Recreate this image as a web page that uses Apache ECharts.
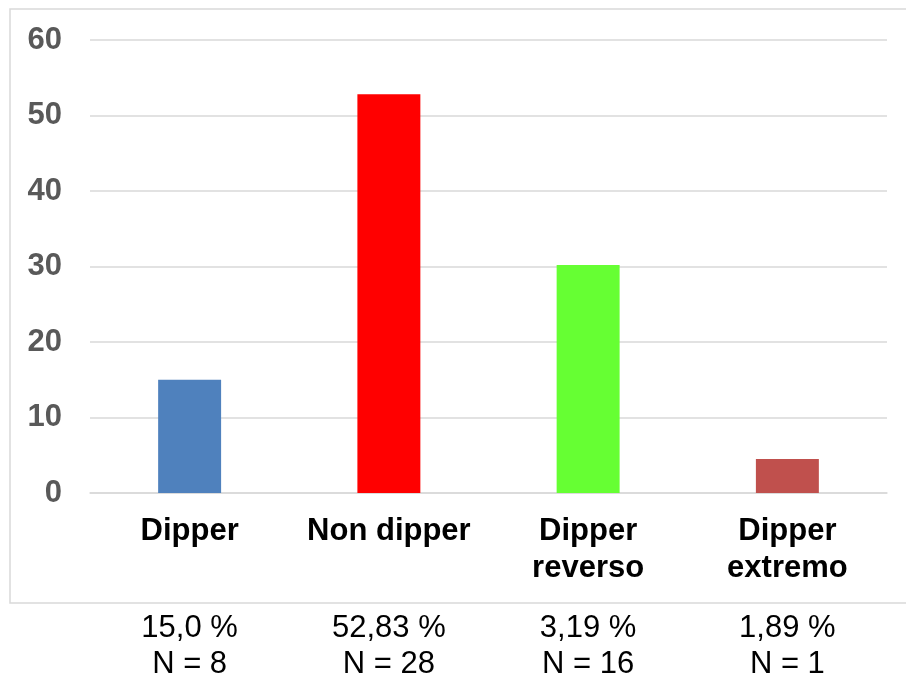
<!DOCTYPE html>
<html>
<head>
<meta charset="utf-8">
<style>
  html, body { margin: 0; padding: 0; background: #ffffff; }
  #chart { width: 906px; height: 680px; }
</style>
<script src="https://cdn.jsdelivr.net/npm/echarts@6/dist/echarts.min.js"></script>
</head>
<body>
<div id="chart"></div>
<script>
// Dipping pattern groups
const categories = ['Dipper', 'Non dipper', 'Dipper\nreverso', 'Dipper\nextremo'];
// Bar heights (percent of patients)
const values = [15.0, 52.83, 30.19, 4.5];
const barColors = ['#4f81bd', '#ff0000', '#66ff33', '#c0504d'];
// Summary text printed under each group
const percentTexts = ['15,0 %', '52,83 %', '3,19 %', '1,89 %'];
const countTexts = ['N = 8', 'N = 28', 'N = 16', 'N = 1'];
const yTicks = [0, 10, 20, 30, 40, 50, 60];

const chart = echarts.init(document.getElementById('chart'));
const FONT = '"Liberation Sans", Arial, sans-serif';

chart.setOption({
  animation: false,
  backgroundColor: '#ffffff',
  grid: { left: 90, right: 19, top: 40, bottom: 187, outerBoundsMode: 'none', containLabel: false },
  graphic: [{
    type: 'rect',
    shape: { x: 10, y: 9, width: 910, height: 594 },
    style: { fill: 'none', stroke: '#d9d9d9', lineWidth: 1.5 },
    silent: true
  }],
  xAxis: [{
    type: 'category',
    data: categories,
    axisLine: { show: true, lineStyle: { color: '#d9d9d9', width: 1.5 } },
    axisTick: { show: false },
    axisLabel: {
      margin: 20,
      interval: 0,
      color: '#000000',
      fontFamily: FONT,
      fontWeight: 'bold',
      fontSize: 31,
      lineHeight: 37
    }
  }, {
    type: 'category',
    data: categories,
    position: 'bottom',
    offset: 117,
    axisLine: { show: false },
    axisTick: { show: false },
    axisLabel: {
      margin: 0,
      interval: 0,
      color: '#000000',
      fontFamily: FONT,
      fontSize: 31,
      lineHeight: 36,
      formatter: (v, i) => percentTexts[i] + '\n' + countTexts[i]
    }
  }],
  yAxis: {
    type: 'value',
    min: yTicks[0],
    max: yTicks[yTicks.length - 1],
    interval: yTicks[1] - yTicks[0],
    axisLine: { show: false },
    axisTick: { show: false },
    splitLine: { lineStyle: { color: '#d9d9d9', width: 1.5 } },
    axisLabel: {
      margin: 28,
      color: '#595959',
      fontFamily: FONT,
      fontWeight: 'bold',
      fontSize: 31,
      padding: [4, 0, 0, 0]
    }
  },
  series: [{
    type: 'bar',
    xAxisIndex: 0,
    barWidth: '31.6%',
    data: values.map((v, i) => ({ value: v, itemStyle: { color: barColors[i] } }))
  }]
});
</script>
</body>
</html>
